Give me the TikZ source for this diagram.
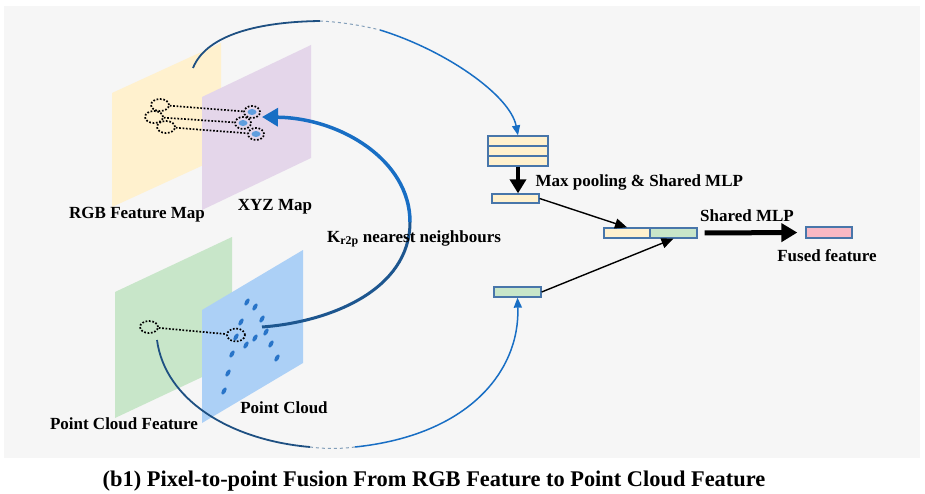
\documentclass[tikz,border=0pt]{standalone}
\usepackage{fontspec}
\setmainfont{Liberation Serif}
\usetikzlibrary{arrows.meta,shapes.geometric}
\definecolor{panel}{RGB}{246,246,246}
\definecolor{rgbfill}{RGB}{255,241,206}
\definecolor{xyzfill}{RGB}{228,214,234}
\definecolor{pcffill}{RGB}{200,230,201}
\definecolor{pcfill}{RGB}{172,208,246}
\definecolor{dotblue}{RGB}{40,116,200}
\definecolor{pale}{RGB}{96,158,222}
\definecolor{flow}{RGB}{24,110,196}
\definecolor{deepflow}{RGB}{30,80,130}
\definecolor{edge}{RGB}{72,118,170}
\definecolor{pinkfill}{RGB}{248,184,196}

\begin{document}
\begin{tikzpicture}[x=1pt,y=-1pt,
 label/.style={font=\fontsize{17}{20}\selectfont\bfseries,text=black},
 ring/.style={ellipse,draw=black,line width=1.7pt,dash pattern=on 1.7pt off 1.7pt,
   minimum width=18pt,minimum height=12pt,inner sep=0pt},
 link/.style={line width=1.7pt,dash pattern=on 1.7pt off 1.7pt},
 feat/.style={draw=edge,line width=1.3pt,minimum height=10pt,inner sep=0pt},
 push/.style={line width=4.5pt,-{Triangle[length=14pt,width=16pt]}},
 feed/.style={line width=1.4pt,-{Triangle[length=12pt,width=10pt]}}]
 \path[use as bounding box] (0,0) rectangle (925,494);
 \fill[panel] (4,6) rectangle (920,458);
 % planes
 \fill[rgbfill] (112,93)--(221,43)--(221,157)--(112,207)--cycle;
 \fill[xyzfill] (202,97)--(311,45)--(311,158)--(202,210)--cycle;
 \fill[pcffill] (115,292)--(232,237)--(232,363)--(115,418)--cycle;
 \fill[pcfill] (202,310)--(303,250)--(303,363)--(202,423)--cycle;
 \foreach \px/\py in {247/302,255/307,241/322,262/319,236/337,246/345,255/338,
   266/332,271/344,232/354,277/358,228/373,224/391}
  \fill[dotblue,rotate around={60:(\px,\py)}] (\px,\py) ellipse[x radius=4,y radius=2];
 % neighbour rings
 \node[ring] (rgbA) at (160,105) {};
 \node[ring] (rgbB) at (154,117) {};
 \node[ring] (rgbC) at (166,127) {};
 \foreach \n/\px/\py in {A/252/112,B/243/123,C/256/134}{
  \fill[pale] (\px,\py) ellipse[x radius=4.5,y radius=3];
  \node[ring,minimum width=16pt] (xyz\n) at (\px,\py) {};
 }
 \draw[link] (rgbA)--(xyzA);
 \draw[link] (rgbB)--(xyzB);
 \draw[link] (rgbC)--(xyzC);
 \node[ring] (pcfR) at (149,327) {};
 \node[ring,minimum height=13pt] (pcR) at (236,335) {};
 \draw[link] (pcfR)--(pcR);
 % features
 \node[feat,fill=rgbfill,minimum width=60pt] (stackA) at (518,141) {};
 \node[feat,fill=rgbfill,minimum width=60pt] (stackB) at (518,151) {};
 \node[feat,fill=rgbfill,minimum width=60pt] (stackC) at (518,161) {};
 \node[feat,fill=rgbfill,minimum width=47pt,minimum height=9pt] (pool) at (515.5,198.5) {};
 \node[feat,fill=pcffill,minimum width=47pt] (pcf) at (517.5,292) {};
 \node[feat,fill=rgbfill,minimum width=46pt] (catA) at (627,233) {};
 \node[feat,fill=pcffill,minimum width=47pt] (catB) at (673.5,233) {};
 \node[feat,fill=pinkfill,minimum width=46pt,minimum height=11pt] (fused) at (829,232.5) {};
 \draw[push] (stackC.south)--(stackC.south |- pool.north);
 \draw[feed] (pool.east)--(catA.north);
 \draw[feed] (pcf.east)--(catB.south);
 \draw[push,line width=5pt,-{Triangle[length=16pt,width=18pt]},
   shorten <=7pt,shorten >=8pt] (catB.east)--(fused.west);
 % blue flows
 \coordinate (topS) at (193,68);
 \coordinate (topM) at (320,21);
 \coordinate (topN) at (380,30);
 \draw[deepflow,line width=1.8pt] (topS) .. controls (205,38) and (250,22) .. (topM);
 \draw[deepflow!55,line width=1pt,dashed] (topM) .. controls (340,22) and (360,25) .. (topN);
 \draw[flow,line width=1.5pt,-{Triangle[length=10pt,width=8pt]}]
   (topN) .. controls (445,50) and (510,95) .. (stackA.north);
 \coordinate (knnS) at (262,327);
 \coordinate (knnM) at (410,222);
 \coordinate (knnT) at (262,117);
 \draw[deepflow!80!flow,line width=3pt] (knnS) .. controls (330,322) and (410,290) .. (knnM);
 \draw[flow,line width=3.5pt,-{Triangle[length=16pt,width=18pt]}]
   (knnM) .. controls (410,160) and (340,118) .. (knnT);
 \coordinate (botS) at (157,340);
 \coordinate (botM) at (310,447);
 \coordinate (botN) at (355,447);
 \draw[deepflow,line width=1.8pt] (botS) .. controls (165,400) and (230,440) .. (botM);
 \draw[deepflow!55,line width=1pt,dashed] (botM) .. controls (325,449) and (340,449) .. (botN);
 \draw[flow,line width=1.5pt,-{Triangle[length=10pt,width=8pt]}]
   (botN) .. controls (470,435) and (520,370) .. (pcf.south);
 % labels
 \node[label] (rgbLbl) at (137,215) {RGB Feature Map};
 \node[label] (xyzLbl) at (275,207) {XYZ Map};
 \node[label] (knnLbl) at (414,239) {K\textsubscript{r2p} nearest neighbours};
 \node[label,anchor=west] (poolLbl) at (532,182) {Max pooling \& Shared MLP};
 \node[label] (mlpLbl) at (747,216) {Shared MLP};
 \node[label] (fusedLbl) at (827,256) {Fused feature};
 \node[label] (pcfLbl) at (124,424) {Point Cloud Feature};
 \node[label] (pcLbl) at (284,408) {Point Cloud};
 \node[label,font=\fontsize{22.4}{26}\selectfont\bfseries] (caption) at (434,481)
   {(b1) Pixel-to-point Fusion From RGB Feature to Point Cloud Feature};
\end{tikzpicture}
\end{document}
